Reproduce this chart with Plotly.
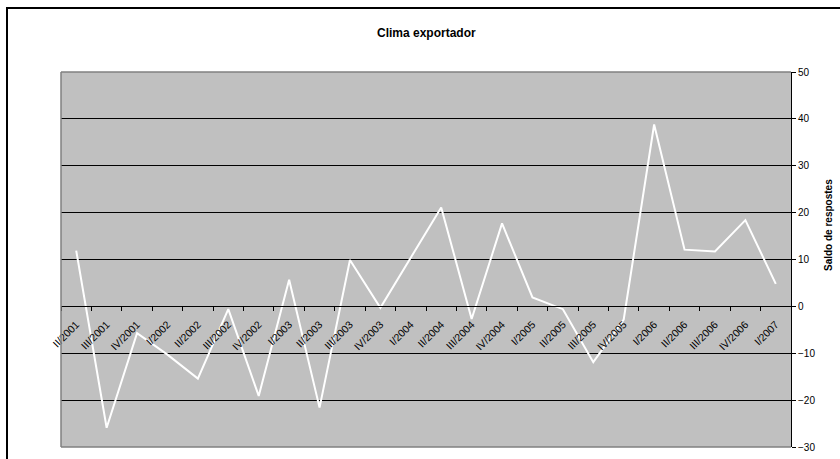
import plotly.graph_objects as go

categories = ["II/2001", "III/2001", "IV/2001", "I/2002", "II/2002", "III/2002", "IV/2002",
              "I/2003", "II/2003", "III/2003", "IV/2003", "I/2004", "II/2004", "III/2004",
              "IV/2004", "I/2005", "II/2005", "III/2005", "IV/2005", "I/2006", "II/2006",
              "III/2006", "IV/2006", "I/2007"]
saldo = [11.9, -25.9, -5.7, -10.3, -15.4, -0.6, -19.1, 5.7, -21.6, 9.9, -0.3, 10.4,
         21.1, -2.7, 17.7, 1.9, -0.6, -11.9, -2.8, 38.8, 12.1, 11.7, 18.4, 4.8]
y_ticks = [-30, -20, -10, 0, 10, 20, 30, 40, 50]

title_text = "Clima exportador"
y_title = "Saldo de respostes"

FONT = "Liberation Sans, Arial, sans-serif"

L, R, T, B = 61, 49, 72, 12
PW, PH = 840 - L - R, 459 - T - B

fig = go.Figure()
fig.add_trace(go.Scatter(x=categories, y=saldo, mode="lines",
                         line=dict(color="white", width=2), showlegend=False,
                         hoverinfo="x+y"))

ymin, ymax = -30, 50
fig.update_layout(
    width=840, height=459,
    margin=dict(l=L, r=R, t=T, b=B, autoexpand=False),
    paper_bgcolor="white",
    plot_bgcolor="#C0C0C0",
    font=dict(family=FONT, color="black", size=10),
    xaxis=dict(type="category", anchor="free", position=(0 - ymin) / (ymax - ymin),
               range=[-0.5, len(categories) - 0.5], showgrid=False, zeroline=False,
               showline=True, linecolor="black", linewidth=1, automargin=False,
               ticks="outside", ticklen=4, tickcolor="black", tickson="boundaries",
               ticklabelstandoff=7,
               tickangle=-45, dtick=1, tickfont=dict(family=FONT, size=10.5, color="black")),
    yaxis=dict(range=[ymin, ymax], side="right", tickvals=y_ticks, automargin=False,
               showgrid=True, gridcolor="black", gridwidth=1, zeroline=False,
               showline=True, linecolor="black", linewidth=1,
               ticks="outside", ticklen=4, tickcolor="black",
               tickfont=dict(family=FONT, size=10, color="black")),
)

# plot-area frame (gray) on left, top, bottom
for x0, y0, x1, y1 in [(0, 0, 0, 1), (0, 1, 1, 1), (0, 0, 1, 0)]:
    fig.add_shape(type="line", xref="paper", yref="paper", x0=x0, y0=y0, x1=x1, y1=y1,
                  line=dict(color="#808080", width=1.5), layer="above")

# outer chart border
fig.add_shape(type="rect", xref="paper", yref="paper",
              x0=(7 - L) / PW, y0=-0.1, x1=1.2, y1=(459 - B - 8) / PH,
              line=dict(color="black", width=2), fillcolor="rgba(0,0,0,0)", layer="below")

fig.add_annotation(text="<b>" + title_text + "</b>", xref="paper", yref="paper",
                   x=0.5, y=(459 - B - 33) / PH, xanchor="center", yanchor="middle",
                   showarrow=False, font=dict(family=FONT, size=12, color="black"))

fig.add_annotation(text="<b>" + y_title + "</b>", xref="paper", yref="paper",
                   x=(828 - L) / PW, y=(459 - B - 225) / PH, xanchor="center", yanchor="middle",
                   textangle=-90, showarrow=False,
                   font=dict(family=FONT, size=10, color="black"))

fig.write_html("out.html", config={"displayModeBar": False},
               post_script="document.body.style.margin='0';document.body.style.overflow='hidden';")
